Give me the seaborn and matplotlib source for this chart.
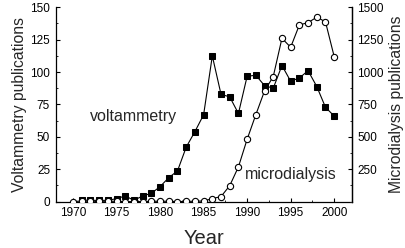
import numpy as np
import pandas as pd
import matplotlib
matplotlib.use("Agg")
import matplotlib.pyplot as plt
import seaborn as sns
from matplotlib.ticker import MultipleLocator

# Publications per year
volt_years = list(range(1971, 2001))
volt_counts = [1.3, 1, 1, 1, 2.3, 4.4, 1, 4.4, 6.4, 11.6,
               18.5, 23.7, 42, 54, 67, 112.4, 82.8, 80.8, 68, 96.7,
               97.5, 89.5, 87.5, 105, 92.9, 95.4, 101, 88.8, 72.8, 66]

micro_years = list(range(1970, 2001))
micro_counts = [0, 5, 3, 3, 3, 3, 0, 0, 0, 3,
                3, 3, 0, 2, 3, 5, 23, 39, 123, 268,
                481, 671, 854, 965, 1260, 1191, 1363, 1381, 1423, 1387,
                1119]

x_ticks = [1970, 1975, 1980, 1985, 1990, 1995, 2000]
left_ticks = [0, 25, 50, 75, 100, 125, 150]
right_ticks = [250, 500, 750, 1000, 1250, 1500]

sns.set_theme(style="ticks")
plt.rcParams["font.family"] = ["Liberation Sans", "DejaVu Sans"]

volt = pd.DataFrame({"year": volt_years, "n": volt_counts})
micro = pd.DataFrame({"year": micro_years, "n": micro_counts})

fig = plt.figure(figsize=(4.06, 2.48), dpi=100)
ax = fig.add_axes([0.137, 0.187, 0.729, 0.784])
ax2 = ax.twinx()

sns.lineplot(data=volt, x="year", y="n", ax=ax, color="black", lw=0.8,
             marker="s", markersize=4.3, markerfacecolor="black",
             markeredgecolor="black")
sns.lineplot(data=micro, x="year", y="n", ax=ax2, color="black", lw=0.8,
             marker="o", markersize=4.5, markerfacecolor="white",
             markeredgecolor="black", markeredgewidth=0.8)

ax.set_xlim(1968, 2002)
ax.set_ylim(0, 150)
ax2.set_ylim(0, 1500)
ax.set_xticks(x_ticks)
ax.set_yticks(left_ticks)
ax2.set_yticks(right_ticks)
ax.xaxis.set_minor_locator(MultipleLocator(2.5))
ax.yaxis.set_minor_locator(MultipleLocator(12.5))
ax2.yaxis.set_minor_locator(MultipleLocator(125))

for a in (ax, ax2):
    a.spines["top"].set_visible(False)
    for s in a.spines.values():
        s.set_linewidth(0.9)
        s.set_color("black")
    a.tick_params(which="major", direction="in", length=3, width=0.8,
                  labelsize=8.5, colors="black", pad=4)
    a.tick_params(which="minor", direction="in", length=1.5, width=0.7)
ax.tick_params(axis="y", which="both", right=False)
ax2.spines["left"].set_visible(False)
ax2.spines["bottom"].set_visible(False)

ax.set_xlabel("Year", fontsize=14.5, labelpad=7)
ax.set_ylabel("Voltammetry publications", fontsize=11.3, labelpad=2)
ax2.set_ylabel("Microdialysis publications", fontsize=11.3, labelpad=4)

ax.text(1977.0, 65.4, "voltammetry", fontsize=11.5, ha="center", va="center")
ax.text(1995.0, 20.6, "microdialysis", fontsize=11.5, ha="center", va="center")

fig.savefig("out.png", dpi=100)
